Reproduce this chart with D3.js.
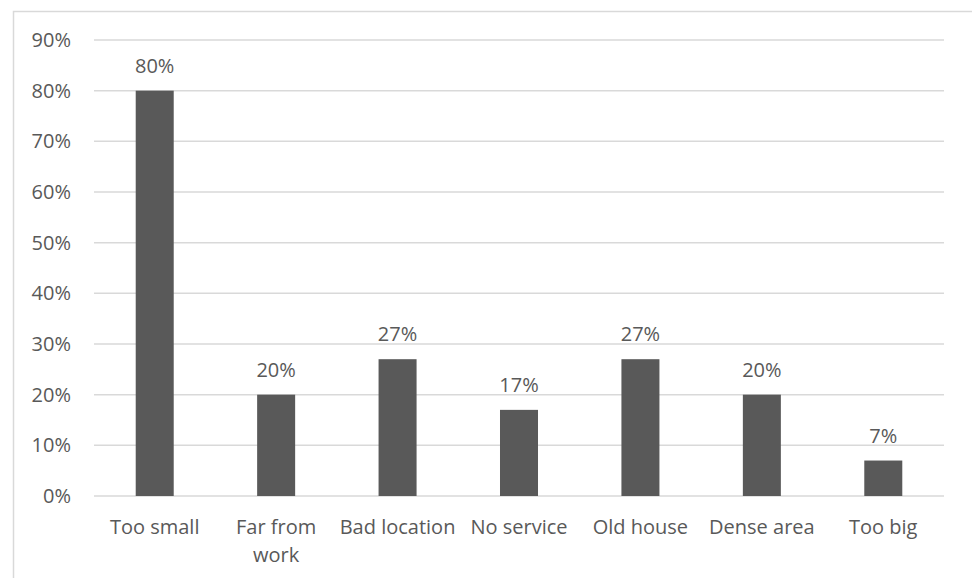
<!DOCTYPE html>
<html>
<head>
<meta charset="utf-8">
<script src="https://cdn.jsdelivr.net/npm/d3@7"></script>
<style>
  html, body { margin: 0; padding: 0; background: #fff; }
  svg { display: block; }
  text { font-family: "Open Sans", sans-serif; fill: #595959; }
</style>
</head>
<body>
<svg id="chart" width="972" height="578"></svg>
<script>
// Reasons for wanting to move, share of respondents (%)
const categories = ["Too small", "Far from work", "Bad location", "No service", "Old house", "Dense area", "Too big"];
const values = [80, 20, 27, 17, 27, 20, 7];
const yTicks = [0, 10, 20, 30, 40, 50, 60, 70, 80, 90];

const W = 972, H = 578;
const margin = { left: 94, right: 28, top: 40, bottom: 82 };
const svg = d3.select("#chart");

// outer chart frame
svg.append("rect")
  .attr("x", 13.5).attr("y", 11.5)
  .attr("width", 970).attr("height", 600)
  .attr("fill", "none").attr("stroke", "#d9d9d9").attr("stroke-width", 1.5);

const x = d3.scaleBand()
  .domain(categories)
  .range([margin.left, W - margin.right])
  .paddingInner(0.687).paddingOuter(0.3435);

const y = d3.scaleLinear()
  .domain([0, 90])
  .range([H - margin.bottom, margin.top]);

// horizontal gridlines
svg.append("g")
  .selectAll("line")
  .data(yTicks)
  .join("line")
  .attr("x1", margin.left).attr("x2", W - margin.right)
  .attr("y1", d => y(d)).attr("y2", d => y(d))
  .attr("stroke", "#d9d9d9").attr("stroke-width", 1.5);

// y axis labels
const yAxis = d3.axisLeft(y).tickValues(yTicks).tickFormat(d => d + "%").tickSize(0).tickPadding(23);
const yg = svg.append("g").attr("transform", `translate(${margin.left},0)`).call(yAxis);
yg.select(".domain").remove();
yg.selectAll("text").style("font-size", "20px").attr("fill", "#595959").attr("font-family", "Open Sans");

// bars
svg.append("g")
  .selectAll("rect")
  .data(values)
  .join("rect")
  .attr("x", (d, i) => x(categories[i]))
  .attr("width", x.bandwidth())
  .attr("y", d => y(d))
  .attr("height", d => y(0) - y(d))
  .attr("fill", "#595959");

// value labels
svg.append("g")
  .selectAll("text")
  .data(values)
  .join("text")
  .attr("x", (d, i) => x(categories[i]) + x.bandwidth() / 2)
  .attr("y", d => y(d) - 18)
  .attr("text-anchor", "middle")
  .style("font-size", "20px")
  .text(d => d + "%");

// category labels, wrapped to the band step
const step = x.step();
const catG = svg.append("g");
categories.forEach(c => {
  const cx = x(c) + x.bandwidth() / 2;
  const t = catG.append("text")
    .attr("x", cx).attr("y", 534)
    .attr("text-anchor", "middle")
    .style("font-size", "20px");
  const words = c.split(" ");
  let line = [];
  let tspan = t.append("tspan").attr("x", cx).attr("y", 534);
  let lineNo = 0;
  words.forEach(w => {
    line.push(w);
    tspan.text(line.join(" "));
    if (tspan.node().getComputedTextLength() > step - 2 && line.length > 1) {
      line.pop();
      tspan.text(line.join(" "));
      line = [w];
      lineNo++;
      tspan = t.append("tspan").attr("x", cx).attr("y", 534 + lineNo * 28).text(w);
    }
  });
});
</script>
</body>
</html>
